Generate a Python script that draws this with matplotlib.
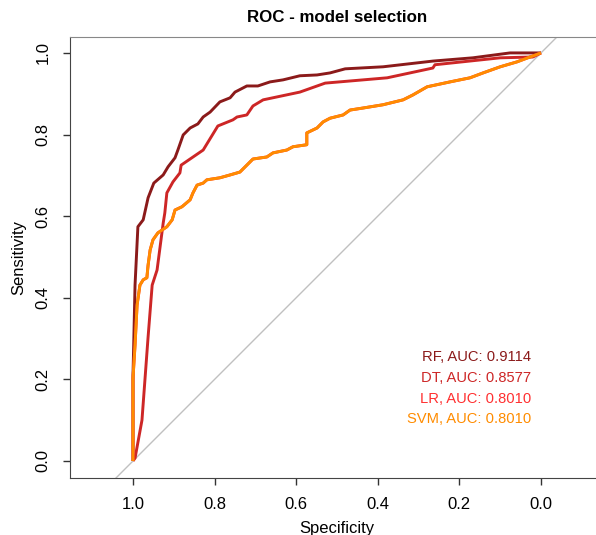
import matplotlib
matplotlib.use('Agg')
import matplotlib.pyplot as plt
import numpy as np

plt.rcParams['font.family'] = ['Liberation Sans', 'DejaVu Sans']

# ROC curves (specificity, sensitivity)
rf_spec = [1.0, 1.0, 0.998, 0.995, 0.988, 0.975, 0.963, 0.949, 0.926, 0.914, 0.897, 0.890,
           0.877, 0.860, 0.841, 0.828, 0.811, 0.787, 0.762, 0.750, 0.721, 0.694, 0.664,
           0.632, 0.591, 0.549, 0.517, 0.480, 0.387, 0.265, 0.167, 0.076, 0.0]
rf_sens = [0.0, 0.21, 0.297, 0.431, 0.574, 0.591, 0.645, 0.681, 0.701, 0.721, 0.743, 0.762,
           0.799, 0.816, 0.826, 0.843, 0.855, 0.880, 0.890, 0.904, 0.919, 0.919, 0.929,
           0.934, 0.944, 0.946, 0.951, 0.961, 0.966, 0.980, 0.988, 1.0, 1.0]

dt_spec = [1.0, 0.995, 0.978, 0.963, 0.953, 0.941, 0.926, 0.922, 0.917, 0.902, 0.885, 0.882,
           0.828, 0.792, 0.755, 0.745, 0.721, 0.706, 0.681, 0.591, 0.529, 0.377, 0.265,
           0.260, 0.100, 0.020, 0.0]
dt_sens = [0.0, 0.007, 0.100, 0.304, 0.431, 0.468, 0.583, 0.608, 0.657, 0.684, 0.706, 0.725,
           0.762, 0.821, 0.836, 0.843, 0.848, 0.870, 0.885, 0.904, 0.926, 0.939, 0.963,
           0.971, 0.988, 0.990, 1.0]

svm_spec = [1.0, 1.0, 1.0, 0.995, 0.990, 0.983, 0.975, 0.966, 0.963, 0.958, 0.951, 0.939,
            0.917, 0.904, 0.897, 0.880, 0.860, 0.853, 0.843, 0.828, 0.819, 0.787, 0.762,
            0.738, 0.721, 0.706, 0.672, 0.657, 0.623, 0.608, 0.574, 0.574, 0.549, 0.534,
            0.517, 0.485, 0.468, 0.436, 0.387, 0.338, 0.314, 0.279, 0.223, 0.174, 0.142,
            0.100, 0.059, 0.027, 0.0]
svm_sens = [0.0, 0.113, 0.203, 0.284, 0.382, 0.431, 0.444, 0.449, 0.480, 0.517, 0.542, 0.559,
            0.574, 0.591, 0.615, 0.623, 0.640, 0.657, 0.676, 0.681, 0.689, 0.694, 0.701,
            0.708, 0.725, 0.740, 0.745, 0.755, 0.762, 0.770, 0.775, 0.804, 0.816, 0.831,
            0.840, 0.848, 0.860, 0.865, 0.873, 0.885, 0.897, 0.917, 0.929, 0.939, 0.951,
            0.966, 0.978, 0.990, 1.0]

# LR has the same AUC as SVM and sits under it
lr_spec = svm_spec
lr_sens = svm_sens

models = ['RF', 'DT', 'LR', 'SVM']
aucs = [0.9114, 0.8577, 0.8010, 0.8010]
colors = ['#8B1A1A', '#CD2626', '#FF3030', '#FF8C00']


def main():
    fig = plt.figure(figsize=(5.96, 5.35), dpi=100)
    ax = fig.add_axes([70 / 596, 57 / 535, 534 / 596, 441 / 535])

    ax.set_xlim(1.1544, -0.1544)
    ax.set_ylim(-0.0417, 1.039)

    # chance line
    d = np.array([1.3, -0.3])
    ax.plot(d, 1 - d, color='#C0C0C0', lw=1.0, zorder=1)

    curves = [(rf_spec, rf_sens), (dt_spec, dt_sens), (lr_spec, lr_sens), (svm_spec, svm_sens)]
    for (sx, sy), c in zip(curves, colors):
        ax.plot(sx, sy, color=c, lw=2.1, solid_capstyle='butt', zorder=2)

    for i, (m, a, c) in enumerate(zip(models, aucs, colors)):
        ax.text(0.0245, 0.255 - i * 0.051, '%s, AUC: %.4f' % (m, a), color=c,
                ha='right', va='center', fontsize=10.6)

    ticks = [1.0, 0.8, 0.6, 0.4, 0.2, 0.0]
    ax.set_xticks(ticks)
    ax.set_xticklabels(['%.1f' % t for t in ticks])
    ax.set_yticks(ticks[::-1])
    ax.set_yticklabels(['%.1f' % t for t in ticks[::-1]], rotation=90, va='center')
    ax.tick_params(direction='out', length=5, width=1, pad=9, labelsize=12,
                   colors='#333333', labelcolor='black')

    for s in ['left', 'bottom']:
        ax.spines[s].set_color('#444444')
    ax.spines['top'].set_color('#888888')
    ax.spines['right'].set_color('#888888')

    ax.set_xlabel('Specificity', fontsize=12)
    ax.xaxis.set_label_coords(0.5, -0.098)
    ax.set_ylabel('Sensitivity', fontsize=12)
    ax.yaxis.set_label_coords(-0.082, 0.5)

    fig.text(337 / 596, 1 - 18 / 535, 'ROC - model selection', ha='center', va='center',
             fontsize=12.2, fontweight='bold')

    fig.savefig('out.png', dpi=100)


if __name__ == '__main__':
    main()
